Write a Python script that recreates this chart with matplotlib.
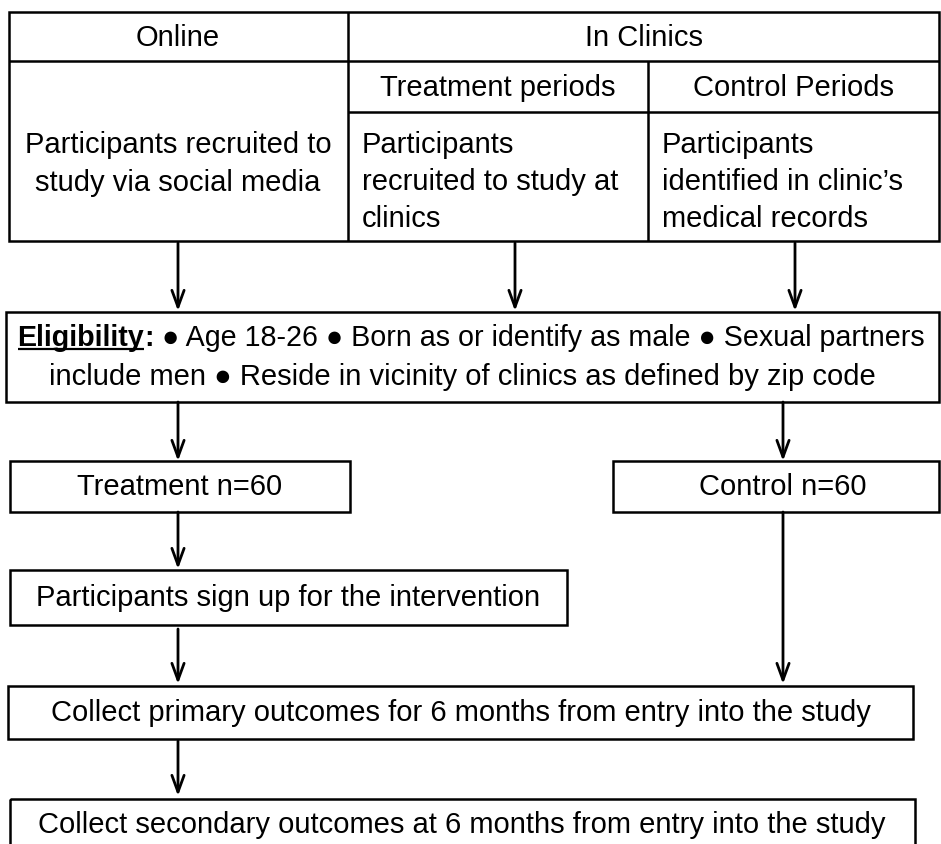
"""Recreate the recruitment / eligibility flow diagram (online vs in-clinic arms)."""
import matplotlib

matplotlib.use("Agg")

import matplotlib.pyplot as plt  # noqa: E402
from matplotlib.patches import FancyArrowPatch, Rectangle  # noqa: E402

# ---- text content -------------------------------------------------------------------------------
head_online = "Online"
head_clinics = "In Clinics"
sub_heads = ["Treatment periods", "Control Periods"]
source_texts = [
    "Participants recruited to\nstudy via social media",
    "Participants\nrecruited to study at\nclinics",
    "Participants\nidentified in clinic\u2019s\nmedical records",
]
elig_label = "Eligibility"
elig_line1 = " \u25cf Age 18-26 \u25cf Born as or identify as male \u25cf Sexual partners"
elig_line2 = "include men \u25cf Reside in vicinity of clinics as defined by zip code"
arm_labels = ["Treatment n=60", "Control n=60"]
step_labels = [
    "Participants sign up for the intervention",
    "Collect primary outcomes for 6 months from entry into the study",
    "Collect secondary outcomes at 6 months from entry into the study",
]

W, H = 941, 845
FONT = ["Liberation Sans", "DejaVu Sans"]
FS = 21
LW = 1.8

fig = plt.figure(figsize=(W / 100, H / 100), dpi=100)
ax = fig.add_axes([0, 0, 1, 1])
ax.set_xlim(0, W)
ax.set_ylim(H, 0)
ax.set_axis_off()


def box(x0, y0, x1, y1):
    ax.add_patch(Rectangle((x0, y0), x1 - x0, y1 - y0, fill=False, ec="black", lw=LW))


def line(x0, y0, x1, y1, lw=LW):
    ax.plot([x0, x1], [y0, y1], color="black", lw=lw, solid_capstyle="butt")


def arrow(x, y0, y1):
    ax.add_patch(FancyArrowPatch((x, y0), (x, y1), arrowstyle="->,head_length=0.6,head_width=0.22",
                                 mutation_scale=20, color="black", lw=2.0, shrinkA=0, shrinkB=0))


def label(x, y, s, ha="center", fs=FS, **kw):
    return ax.text(x, y, s, ha=ha, va="center", fontsize=fs, family=FONT, **kw)


# ---- top table ----------------------------------------------------------------------------------
box(9, 13, 939, 242)
line(9, 62, 939, 62)
line(348, 13, 348, 242)
line(348, 113, 939, 113)
line(648, 62, 648, 242)

label(178, 38, head_online)
label(644, 38, head_clinics)
label(498, 88, sub_heads[0])
label(794, 88, sub_heads[1])
label(178, 164, source_texts[0], linespacing=1.42)
label(362, 182, source_texts[1], ha="left", linespacing=1.42)
label(662, 182, source_texts[2], ha="left", linespacing=1.42)

for x in (178, 515, 795):
    arrow(x, 244, 312)

# ---- eligibility --------------------------------------------------------------------------------
box(6, 313, 939, 403)
fig.canvas.draw()
renderer = fig.canvas.get_renderer()

runs = [(elig_label, "bold"), (":", "bold"), (elig_line1, "normal")]
pieces = [ax.text(0, 346, t, ha="left", va="baseline", fontsize=20.6, weight=w, family=FONT)
          for t, w in runs]
widths = [p.get_window_extent(renderer).width for p in pieces]
x = 471 - sum(widths) / 2
ux0 = x
for p, w in zip(pieces, widths):
    p.set_x(x)
    x += w
line(ux0, 350, ux0 + widths[0], 350, lw=1.6)
ax.text(462, 385, elig_line2, ha="center", va="baseline", fontsize=FS, family=FONT)

arrow(178, 403, 462)
arrow(783, 403, 462)

# ---- arms and steps -----------------------------------------------------------------------------
box(10, 462, 350, 513)
box(613, 462, 939, 513)
label(180, 487, arm_labels[0])
label(783, 487, arm_labels[1])

arrow(178, 513, 570)
box(10, 571, 567, 626)
label(288, 598, step_labels[0])

arrow(783, 513, 685)
arrow(178, 630, 685)
box(8, 687, 913, 740)
label(461, 713, step_labels[1])

arrow(178, 742, 797)
box(10, 800, 915, 870)
label(462, 825, step_labels[2])

fig.savefig("out.png", dpi=100)
